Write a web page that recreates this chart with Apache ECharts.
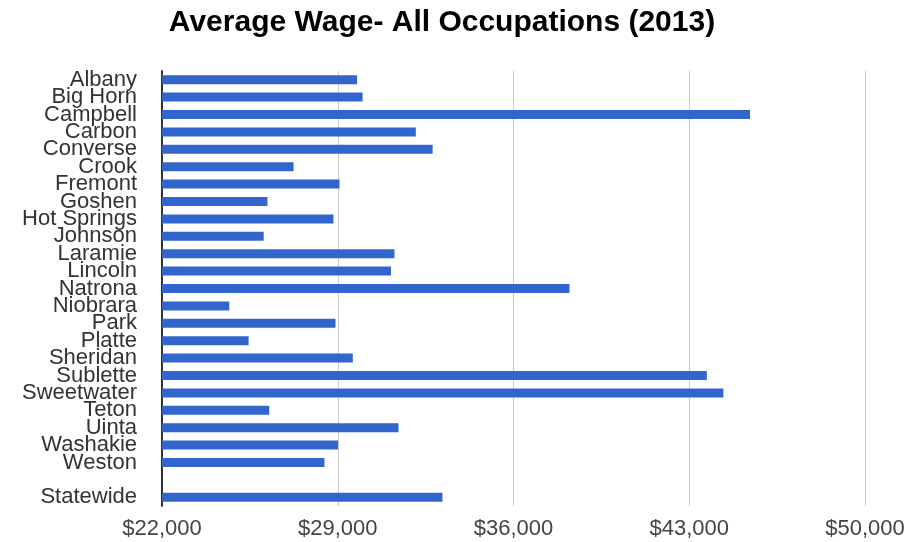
<!DOCTYPE html>
<html lang="en">
<head>
    <meta charset="utf-8">
    <title>Average Wage- All Occupations (2013)</title>
    <style>
        html, body { margin: 0; padding: 0; background: #fff; }
        #main { width: 912px; height: 542px; }
    </style>
</head>
<body>
    <div id="main"></div>
    <script src="https://cdn.jsdelivr.net/npm/echarts@6/dist/echarts.min.js"></script>
    <script>
    // counties (blank row separates the statewide figure)
    var counties = ['Albany', 'Big Horn', 'Campbell', 'Carbon', 'Converse', 'Crook', 'Fremont',
        'Goshen', 'Hot Springs', 'Johnson', 'Laramie', 'Lincoln', 'Natrona', 'Niobrara', 'Park',
        'Platte', 'Sheridan', 'Sublette', 'Sweetwater', 'Teton', 'Uinta', 'Washakie', 'Weston',
        '', 'Statewide'];
    var wages = [29770, 29990, 45420, 32110, 32780, 27240, 29070,
        26200, 28830, 26050, 31260, 31120, 38230, 24680, 28910,
        25450, 29600, 43700, 44360, 26270, 31420, 29010, 28470,
        null, 33170];
    var tickValues = [22000, 29000, 36000, 43000, 50000];

    var chart = echarts.init(document.getElementById('main'));

    var option = {
        backgroundColor: '#fff',
        animation: false,
        title: {
            text: 'Average Wage- All Occupations (2013)',
            left: 437,
            textAlign: 'center',
            top: 3,
            textStyle: {
                fontFamily: 'Liberation Sans',
                fontSize: 30,
                fontWeight: 'bold',
                color: '#000'
            }
        },
        grid: {
            left: 162,
            right: 47,
            top: 71,
            bottom: 36
        },
        xAxis: {
            type: 'value',
            min: tickValues[0],
            max: tickValues[tickValues.length - 1],
            interval: 7000,
            axisLine: { show: false },
            axisTick: { show: false },
            splitLine: { lineStyle: { color: '#cccccc', width: 1 } },
            axisLabel: {
                margin: 12,
                fontFamily: 'Liberation Sans',
                fontSize: 22,
                color: '#444',
                formatter: function (v) {
                    return '$' + v.toLocaleString('en-US');
                }
            }
        },
        yAxis: {
            type: 'category',
            inverse: true,
            data: counties,
            axisLine: { show: true, lineStyle: { color: '#333', width: 2 } },
            axisTick: { show: false },
            axisLabel: {
                margin: 25,
                interval: 0,
                fontFamily: 'Liberation Sans',
                fontSize: 22,
                lineHeight: 18,
                color: '#333'
            }
        },
        series: [{
            type: 'bar',
            data: wages,
            barWidth: 9,
            itemStyle: { color: '#3366cc' }
        }]
    };

    chart.setOption(option);
    </script>
</body>
</html>
